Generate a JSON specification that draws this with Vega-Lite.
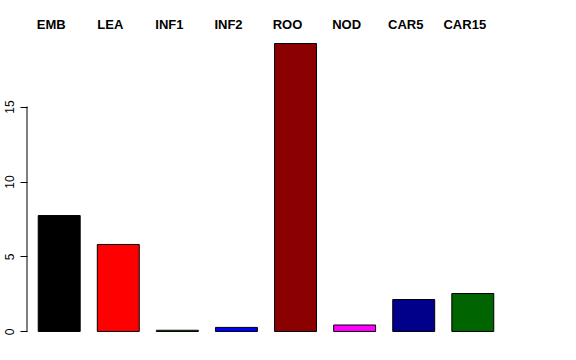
{
  "$schema": "https://vega.github.io/schema/vega-lite/v6.json",
  "width": 478,
  "height": 311,
  "autosize": {"type": "none"},
  "padding": {"left": 27, "top": 32, "right": 71, "bottom": 17},
  "background": "white",
  "config": {
    "view": {"stroke": null},
    "font": "Liberation Sans",
    "axis": {"grid": false, "labelColor": "black", "tickColor": "black", "domainColor": "black"}
  },
  "layer": [
    {
      "data": {"values": [
        {"tissue": "EMB", "value": 7.73},
        {"tissue": "LEA", "value": 5.8},
        {"tissue": "INF1", "value": 0.08},
        {"tissue": "INF2", "value": 0.27},
        {"tissue": "ROO", "value": 19.2},
        {"tissue": "NOD", "value": 0.43},
        {"tissue": "CAR5", "value": 2.13},
        {"tissue": "CAR15", "value": 2.53}
      ]},
      "mark": {"type": "bar", "stroke": "black", "strokeWidth": 1},
      "encoding": {
        "x": {
          "field": "tissue", "type": "nominal", "sort": null,
          "scale": {"paddingInner": 0.29, "paddingOuter": 0.19},
          "axis": {"orient": "top", "title": null, "domain": false, "ticks": false, "labelAngle": 0, "labelFontWeight": "bold", "labelFontSize": 13, "labelOffset": -8, "labelPadding": 1}
        },
        "y": {
          "field": "value", "type": "quantitative",
          "scale": {"domain": [-0.77, 19.97], "nice": false, "zero": false},
          "axis": {"title": null, "domain": false, "values": [0, 5, 10, 15], "tickSize": 7, "labelAngle": -90, "labelAlign": "center", "labelBaseline": "bottom", "labelFontSize": 12, "labelPadding": 4}
        },
        "color": {
          "field": "tissue", "type": "nominal", "legend": null,
          "scale": {
            "domain": ["EMB", "LEA", "INF1", "INF2", "ROO", "NOD", "CAR5", "CAR15"],
            "range": ["#000000", "#FF0000", "#00CD00", "#0000FF", "#8B0000", "#FF00FF", "#00008B", "#006400"]
          }
        }
      }
    },
    {
      "data": {"values": [{"lo": 0, "hi": 15}]},
      "mark": {"type": "rule", "color": "black", "strokeWidth": 1},
      "encoding": {
        "x": {"value": 0},
        "y": {"field": "lo", "type": "quantitative"},
        "y2": {"field": "hi"}
      }
    }
  ]
}
